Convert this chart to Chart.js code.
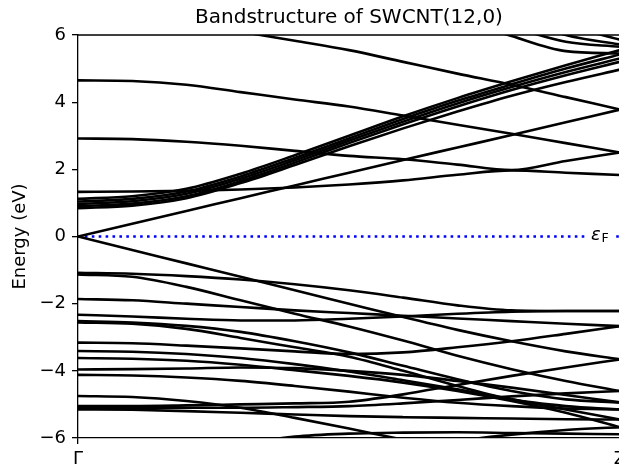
<!DOCTYPE html>
<html>
<head>
<meta charset="utf-8">
<script src="https://cdn.jsdelivr.net/npm/chart.js@4.4.1/dist/chart.umd.min.js"></script>
<style>
  html, body { margin: 0; padding: 0; background: #fff; overflow: hidden; }
  #wrap { width: 640px; height: 464px; }
</style>
</head>
<body>
<div id="wrap"><canvas id="bands"></canvas></div>
<script>
// k path from Gamma (0) to Z (1)
const kPath = [0, 0.1, 0.2, 0.3, 0.4, 0.5, 0.6, 0.7, 0.8, 0.9, 1];
const kTickPos = [0, 1];
const kTickLabels = ['Γ', 'Z'];
const energyTicks = [-6, -4, -2, 0, 2, 4, 6];
const eFermi = 0;

// conduction bands (eV)
const c0    = [0, 0.38, 0.76, 1.14, 1.52, 1.9, 2.28, 2.65, 3.02, 3.4, 3.78];
const cB5   = [0.84, 0.92, 1.14, 1.59, 2.13, 2.69, 3.22, 3.72, 4.19, 4.6, 4.97];
const cB4   = [0.90, 0.98, 1.2, 1.65, 2.2, 2.78, 3.34, 3.87, 4.36, 4.8, 5.2];
const cB3   = [0.97, 1.05, 1.27, 1.72, 2.27, 2.85, 3.42, 3.96, 4.45, 4.9, 5.3];
const cB2   = [1.04, 1.12, 1.34, 1.79, 2.34, 2.92, 3.5, 4.04, 4.53, 5.0, 5.42];
const cB1   = [1.12, 1.2, 1.42, 1.87, 2.42, 3.0, 3.58, 4.12, 4.62, 5.1, 5.55];
const cFlat = [1.33, 1.34, 1.36, 1.4, 1.46, 1.55, 1.67, 1.84, 1.97, 1.9, 1.83];
const c29   = [2.92, 2.9, 2.82, 2.7, 2.55, 2.4, 2.3, 2.14, 1.98, 2.25, 2.5];
const c46   = [4.65, 4.63, 4.52, 4.3, 4.08, 3.87, 3.6, 3.33, 3.06, 2.78, 2.5];
const cTop1 = [6.6, 6.55, 6.4, 6.1, 5.83, 5.55, 5.2, 4.85, 4.52, 4.15, 3.78];
const cTop2 = [null, null, null, null, null, null, null, 6.5, 5.97, 5.52, 5.45];
const cTop3 = [null, null, null, null, null, null, null, 6.8, 6.25, 5.8, 5.65];
const cTop4 = [null, null, null, null, null, null, null, null, 6.6, 6.0, 5.72];
const cTop5 = [null, null, null, null, null, null, null, null, 6.9, 6.3, 5.86];

// valence bands (eV)
const v0  = [0, -0.4, -0.8, -1.2, -1.6, -2.0, -2.4, -2.78, -3.12, -3.42, -3.66];
const vA  = [-1.08, -1.11, -1.18, -1.28, -1.42, -1.6, -1.82, -2.05, -2.2, -2.22, -2.22];
const vB  = [-1.13, -1.2, -1.5, -1.9, -2.3, -2.68, -3.1, -3.55, -3.95, -4.3, -4.6];
const vC  = [-1.86, -1.9, -2.0, -2.1, -2.2, -2.28, -2.36, -2.44, -2.52, -2.6, -2.67];
const vD  = [-2.33, -2.38, -2.45, -2.5, -2.5, -2.45, -2.38, -2.3, -2.24, -2.22, -2.22];
const vE  = [-2.52, -2.56, -2.66, -2.84, -3.12, -3.45, -3.85, -4.25, -4.6, -4.85, -4.94];
const vE2 = [-2.56, -2.6, -2.75, -3.02, -3.3, -3.58, -4.0, -4.45, -4.85, -5.05, -5.15];
const vF  = [-3.16, -3.18, -3.25, -3.33, -3.42, -3.5, -3.45, -3.3, -3.12, -2.9, -2.67];
const vG  = [-3.41, -3.43, -3.5, -3.62, -3.8, -4.02, -4.28, -4.55, -4.85, -5.15, -5.45];
const vH  = [-3.62, -3.64, -3.7, -3.82, -3.98, -4.15, -4.35, -4.6, -4.9, -5.25, -5.68];
const vI  = [-3.96, -3.95, -3.93, -3.9, -3.92, -4.0, -4.12, -4.3, -4.5, -4.72, -4.94];
const vJ  = [-4.12, -4.14, -4.2, -4.3, -4.45, -4.62, -4.8, -4.95, -5.05, -5.12, -5.15];
const vK  = [-4.75, -4.78, -4.9, -5.1, -5.4, -5.72, -6.05, -6.35, -6.6, -6.8, -6.9];
const vL  = [-5.05, -5.05, -5.03, -5.0, -4.97, -4.92, -4.7, -4.42, -4.15, -3.9, -3.66];
const vM  = [-5.1, -5.1, -5.1, -5.1, -5.08, -5.05, -4.97, -4.87, -4.76, -4.67, -4.6];
const vN  = [-5.15, -5.16, -5.2, -5.25, -5.3, -5.35, -5.38, -5.4, -5.42, -5.44, -5.45];
const vO  = [-7.2, -7.0, -6.6, -6.2, -5.96, -5.87, -5.84, -5.83, -5.85, -5.87, -5.89];
const vP  = [null, null, null, null, null, -6.7, -6.4, -6.1, -5.9, -5.76, -5.68];

const bands = [c0, cB5, cB4, cB3, cB2, cB1, cFlat, c29, c46, cTop1, cTop2, cTop3, cTop4, cTop5,
               v0, vA, vB, vC, vD, vE, vE2, vF, vG, vH, vI, vJ, vK, vL, vM, vN, vO, vP];

Chart.defaults.font.family = 'DejaVu Sans';
Chart.defaults.color = '#000';

// top/right spine + the eps_F label on the Fermi line
const frame = {
  id: 'frame',
  afterDraw(chart) {
    const {ctx, chartArea: a, scales} = chart;
    ctx.save();
    ctx.strokeStyle = '#000';
    ctx.lineWidth = 1.3;
    ctx.beginPath();
    ctx.moveTo(a.left, a.top);
    ctx.lineTo(a.right, a.top);
    ctx.lineTo(a.right, a.bottom);
    ctx.stroke();

    const y = scales.y.getPixelForValue(eFermi);
    ctx.fillStyle = '#fff';
    ctx.fillRect(a.right - 33, y - 12, 25, 24);
    ctx.fillStyle = '#000';
    ctx.textBaseline = 'alphabetic';
    ctx.font = 'italic 18px "DejaVu Sans"';
    ctx.fillText('ε', a.right - 29, y + 3);
    ctx.font = '12.6px "DejaVu Sans"';
    ctx.fillText('F', a.right - 18.5, y + 5.5);
    ctx.restore();
  }
};

const datasets = bands.map(b => ({
  data: kPath.map((k, i) => ({x: k, y: b[i]})),
  borderColor: '#000',
  borderWidth: 2.6,
  pointRadius: 0,
  cubicInterpolationMode: 'monotone',
  clip: 0
}));

datasets.push({
  data: [{x: 0, y: eFermi}, {x: 1, y: eFermi}],
  borderColor: '#0000ff',
  borderWidth: 2.4,
  borderDash: [2.6, 4.3],
  pointRadius: 0,
  clip: 0
});

new Chart(document.getElementById('bands'), {
  type: 'line',
  data: { datasets },
  options: {
    responsive: true,
    maintainAspectRatio: false,
    animation: false,
    layout: { padding: { left: 0, right: 20, top: 0, bottom: 0 } },
    plugins: {
      legend: { display: false },
      tooltip: { enabled: false },
      title: {
        display: true,
        fullSize: false,
        text: 'Bandstructure of SWCNT(12,0)',
        font: { size: 20, weight: 'normal' },
        color: '#000',
        padding: { top: 6, bottom: 5 }
      }
    },
    scales: {
      x: {
        type: 'linear',
        min: 0, max: 1,
        afterBuildTicks: axis => { axis.ticks = kTickPos.map(v => ({value: v})); },
        afterFit: s => { s.height = 26; },
        ticks: {
          autoSkip: false, maxRotation: 0, padding: 5,
          font: { size: 18 },
          callback: v => kTickLabels[kTickPos.indexOf(v)]
        },
        grid: { drawOnChartArea: false, drawTicks: true, tickLength: 6, color: '#000', lineWidth: 1.3 },
        border: { color: '#000', width: 1.3 }
      },
      y: {
        min: -6, max: 6,
        afterBuildTicks: axis => { axis.ticks = energyTicks.map(v => ({value: v})); },
        afterFit: s => { s.width = 78; },
        ticks: {
          padding: 6,
          font: { size: 18 },
          callback: v => String(v).replace('-', '\u2212')
        },
        title: {
          display: true,
          text: 'Energy (eV)',
          font: { size: 18 },
          padding: { top: 10 }
        },
        grid: { drawOnChartArea: false, drawTicks: true, tickLength: 6, color: '#000', lineWidth: 1.3 },
        border: { color: '#000', width: 1.3 }
      }
    }
  },
  plugins: [frame]
});
</script>
</body>
</html>
